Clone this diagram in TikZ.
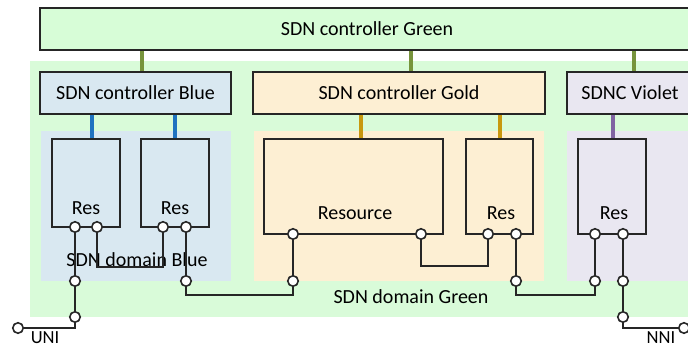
\documentclass[tikz,border=0pt]{standalone}
\usepackage{fontspec}
\setmainfont{Carlito}
\definecolor{gfill}{HTML}{D7FDD7}
\definecolor{gdomfill}{HTML}{D9FBD9}
\definecolor{bfill}{HTML}{D9E8F1}
\definecolor{ofill}{HTML}{FDEFD3}
\definecolor{vfill}{HTML}{E9E7F1}
\definecolor{gconnc}{HTML}{77933C}
\definecolor{bconnc}{HTML}{1F72C0}
\definecolor{oconnc}{HTML}{C8980F}
\definecolor{vconnc}{HTML}{8064A2}
\begin{document}
\begin{tikzpicture}[x=1pt,y=-1pt,font=\fontsize{20}{24}\selectfont,
  dom/.style={draw=none,inner sep=0pt},
  ctrl/.style={draw=black!85,line width=1.8pt,inner sep=0pt,minimum height=42pt},
  resbox/.style={draw=black!85,line width=1.8pt,inner sep=0pt},
  port/.style={circle,draw=black!85,fill=white,line width=1.6pt,inner sep=0pt,minimum size=10.5pt},
  wire/.style={draw=black!85,line width=1.8pt},
  gconn/.style={draw=gconnc,line width=3.2pt},
  bconn/.style={draw=bconnc,line width=3.2pt},
  oconn/.style={draw=oconnc,line width=3.2pt},
  vconn/.style={draw=vconnc,line width=3.2pt},
  lbl/.style={inner sep=0pt},
  edgelbl/.style={inner sep=0pt,font=\fontsize{18.5}{22}\selectfont}]
\useasboundingbox (0,0) rectangle (688,347);
% domains
\node[dom,fill=gdomfill,minimum width=670pt,minimum height=256pt] (gdom) at (365,189) {};
\node[dom,fill=bfill,minimum width=190pt,minimum height=150pt] (bdom) at (136,206) {};
\node[dom,fill=ofill,minimum width=290pt,minimum height=150pt] (odom) at (399,206) {};
\node[dom,fill=vfill,minimum width=140pt,minimum height=150pt] (vdom) at (637,206) {};
% controllers
\node[ctrl,fill=gfill,minimum width=654pt] (gctrl) at (367,29) {SDN controller Green};
\node[ctrl,fill=bfill,minimum width=191pt] (bctrl) at (135.5,93) {SDN controller Blue};
\node[ctrl,fill=ofill,minimum width=292pt] (octrl) at (399,93) {SDN controller Gold};
\node[ctrl,fill=vfill,minimum width=126pt] (vctrl) at (630,93) {SDNC Violet};
% resources
\node[resbox,minimum width=68pt,minimum height=88pt] (rb1) at (86,183) {};
\node[resbox,minimum width=68pt,minimum height=88pt] (rb2) at (175,183) {};
\node[resbox,minimum width=179pt,minimum height=95pt] (res) at (353.5,186.5) {};
\node[resbox,minimum width=67pt,minimum height=95pt] (rg) at (499.5,186.5) {};
\node[resbox,minimum width=68pt,minimum height=95pt] (rv) at (612,186.5) {};
\node[lbl] (lrb1) at (86,208) {Res};
\node[lbl] (lrb2) at (175,208) {Res};
\node[lbl] (lres) at (355,213) {Resource};
\node[lbl] (lrg) at (501,213) {Res};
\node[lbl] (lrv) at (614,213) {Res};
% domain labels
\node[lbl] (ldomb) at (137,260) {SDN domain Blue};
\node[lbl] (ldomg) at (411,297) {SDN domain Green};
\node[edgelbl] (luni) at (45,337.2) {UNI};
\node[edgelbl] (lnni) at (661,337.2) {NNI};
% control taps
\coordinate (tg1) at (142,0);
\coordinate (tg2) at (411,0);
\coordinate (tg3) at (634,0);
\coordinate (tb1) at (92,0);
\coordinate (tb2) at (175,0);
\coordinate (to1) at (361,0);
\coordinate (to2) at (500,0);
\coordinate (tv1) at (613,0);
\draw[gconn] (gctrl.south -| tg1) -- (bctrl.north -| tg1);
\draw[gconn] (gctrl.south -| tg2) -- (octrl.north -| tg2);
\draw[gconn] (gctrl.south -| tg3) -- (vctrl.north -| tg3);
\draw[bconn] (bctrl.south -| tb1) -- (rb1.north -| tb1);
\draw[bconn] (bctrl.south -| tb2) -- (rb2.north -| tb2);
\draw[oconn] (octrl.south -| to1) -- (res.north -| to1);
\draw[oconn] (octrl.south -| to2) -- (rg.north -| to2);
\draw[vconn] (vctrl.south -| tv1) -- (rv.north -| tv1);
% ports
\node[port] (b1a) at (75,227) {};
\node[port] (b1b) at (97,227) {};
\node[port] (b2a) at (163,227) {};
\node[port] (b2b) at (186,227) {};
\node[port] (bl1) at (75,281) {};
\node[port] (bl2) at (75,317) {};
\node[port] (uni) at (18,328) {};
\node[port] (bd) at (186,281) {};
\node[port] (ra) at (293,234) {};
\node[port] (rb) at (421,234) {};
\node[port] (ga) at (488,234) {};
\node[port] (gb) at (516,234) {};
\node[port] (rl) at (293,281) {};
\node[port] (gl) at (516,281) {};
\node[port] (va) at (595,234) {};
\node[port] (vb) at (623,234) {};
\node[port] (vl) at (595,281) {};
\node[port] (vl2) at (623,281) {};
\node[port] (vl3) at (623,317) {};
\node[port] (nni) at (684,328) {};
% wires
\coordinate (k1) at (120,267);
\coordinate (k2) at (240,295);
\coordinate (k3) at (455,266);
\coordinate (k4) at (555,295);
\draw[wire] (b1a) -- (bl1);
\draw[wire] (bl1) -- (bl2);
\draw[wire] (bl2) |- (uni);
\draw[wire] (b1b) |- (k1) -| (b2a);
\draw[wire] (b2b) -- (bd);
\draw[wire] (bd) |- (k2) -| (rl);
\draw[wire] (rl) -- (ra);
\draw[wire] (rb) |- (k3) -| (ga);
\draw[wire] (gb) -- (gl);
\draw[wire] (gl) |- (k4) -| (vl);
\draw[wire] (vl) -- (va);
\draw[wire] (vb) -- (vl2);
\draw[wire] (vl2) -- (vl3);
\draw[wire] (vl3) |- (nni);
\end{tikzpicture}
\end{document}
